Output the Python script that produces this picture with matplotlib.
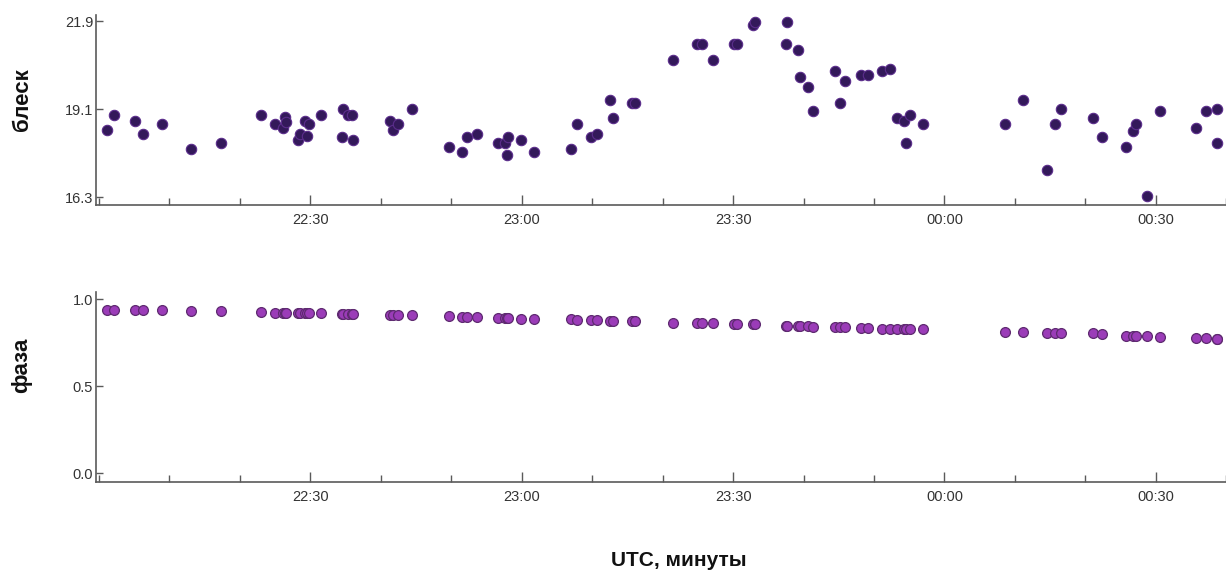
import matplotlib
matplotlib.use("Agg")
import matplotlib.pyplot as plt
from matplotlib.ticker import FixedLocator, MultipleLocator

plt.rcParams['font.family'] = ['Liberation Sans', 'DejaVu Sans']

# observation times, minutes after 22:00 UTC
t_min = [1.2, 2.2, 5.1, 6.3, 9.0, 13.1, 17.3, 23.0, 25.0, 26.1,
         26.4, 26.6, 28.3, 28.5, 29.2, 29.6, 29.8, 31.5, 34.5, 34.7,
         35.4, 35.9, 36.0, 41.3, 41.8, 42.5, 44.5, 49.7, 51.6, 52.2,
         53.6, 56.6, 57.6, 57.9, 58.1, 59.9, 61.7, 67.0, 67.8, 69.8,
         70.7, 72.5, 73.0, 75.6, 76.1, 81.5, 84.9, 85.6, 87.1, 90.2,
         90.5, 92.8, 93.1, 97.5, 97.7, 99.2, 99.5, 100.6, 101.4, 104.5,
         105.2, 105.9, 108.1, 109.1, 111.2, 112.2, 113.3, 114.2, 114.6, 115.1,
         116.9, 128.6, 131.1, 134.5, 135.7, 136.5, 141.1, 142.4, 145.7, 146.7,
         147.2, 148.8, 150.6, 155.7, 157.1, 158.6, 158.7]

# brightness (magnitude)
mag = [18.43, 18.91, 18.72, 18.31, 18.62, 17.83, 18.03, 18.91, 18.62, 18.50,
       18.84, 18.70, 18.11, 18.30, 18.73, 18.24, 18.62, 18.91, 18.22, 19.12,
       18.91, 18.91, 18.11, 18.72, 18.43, 18.62, 19.11, 17.90, 17.74, 18.22,
       18.30, 18.03, 18.03, 17.64, 18.22, 18.11, 17.74, 17.83, 18.62, 18.22,
       18.30, 19.39, 18.82, 19.31, 19.31, 20.68, 21.19, 21.19, 20.68, 21.19,
       21.19, 21.79, 21.88, 21.19, 21.88, 20.98, 20.11, 19.79, 19.04, 20.31,
       19.31, 20.00, 20.18, 20.18, 20.31, 20.38, 18.82, 18.72, 18.03, 18.91,
       18.62, 18.62, 19.39, 17.15, 18.62, 19.11, 18.82, 18.22, 17.90, 18.41,
       18.62, 16.34, 19.04, 18.50, 19.04, 19.11, 18.03]

# phase angle
phase = [0.940, 0.940, 0.939, 0.937, 0.935, 0.931, 0.931, 0.927, 0.922, 0.921,
         0.921, 0.921, 0.920, 0.920, 0.920, 0.919, 0.919, 0.918, 0.915, 0.915,
         0.914, 0.914, 0.914, 0.908, 0.908, 0.907, 0.906, 0.902, 0.896, 0.895,
         0.895, 0.890, 0.889, 0.889, 0.889, 0.887, 0.884, 0.883, 0.882, 0.879,
         0.879, 0.876, 0.875, 0.875, 0.874, 0.865, 0.864, 0.863, 0.860, 0.857,
         0.856, 0.855, 0.855, 0.847, 0.846, 0.845, 0.844, 0.843, 0.842, 0.838,
         0.837, 0.837, 0.835, 0.834, 0.830, 0.829, 0.829, 0.828, 0.828, 0.828,
         0.827, 0.812, 0.810, 0.808, 0.808, 0.807, 0.803, 0.802, 0.788, 0.787,
         0.787, 0.786, 0.785, 0.775, 0.774, 0.773, 0.773]

time_ticks = [30, 60, 90, 120, 150]
time_labels = ['22:30', '23:00', '23:30', '00:00', '00:30']
mag_ticks = [16.3, 19.1, 21.9]
phase_ticks = [0.0, 0.5, 1.0]

axis_col = '#5a5a5a'
text_col = '#333333'

fig = plt.figure(figsize=(12.26, 5.74), dpi=100)
ax1 = fig.add_axes([0.0783, 0.643, 0.922, 0.331])
ax2 = fig.add_axes([0.0783, 0.160, 0.922, 0.331])


def style_axis(ax):
    for side in ('top', 'right'):
        ax.spines[side].set_visible(False)
    for side in ('left', 'bottom'):
        ax.spines[side].set_color(axis_col)
        ax.spines[side].set_linewidth(1.2)
    ax.set_xlim(-0.4, 160.0)
    ax.xaxis.set_major_locator(FixedLocator(time_ticks))
    ax.set_xticklabels(time_labels)
    ax.xaxis.set_minor_locator(MultipleLocator(10))
    ax.tick_params(axis='x', which='major', direction='in', length=7,
                   width=1.0, color=axis_col, labelsize=10.5,
                   labelcolor=text_col, pad=6)
    ax.tick_params(axis='x', which='minor', direction='in', length=5,
                   width=1.0, color=axis_col)
    ax.tick_params(axis='y', direction='in', length=5, width=1.0,
                   color=axis_col, labelsize=10.5, labelcolor=text_col, pad=2)


style_axis(ax1)
ax1.scatter(t_min, mag, s=56, color='#33195a', edgecolors='#5b2d8c',
            linewidths=0.8, zorder=3)
ax1.set_ylim(16.05, 22.1)
ax1.set_yticks(mag_ticks)
ax1.set_yticklabels(['16.3', '19.1', '21.9'])

style_axis(ax2)
ax2.scatter(t_min, phase, s=50, color='#9b3cb8', edgecolors='#5e2a70',
            linewidths=0.9, zorder=3)
ax2.set_ylim(-0.052, 1.04)
ax2.set_yticks(phase_ticks)
ax2.set_yticklabels(['0.0', '0.5', '1.0'])

fig.text(0.018, 0.826, 'блеск', rotation=90, ha='center', va='center',
         fontsize=16, fontweight='bold', color='#111111')
fig.text(0.018, 0.364, 'фаза', rotation=90, ha='center', va='center',
         fontsize=16, fontweight='bold', color='#111111')
fig.text(679 / 1226, 0.024, 'UTC, минуты', ha='center', va='center',
         fontsize=15, fontweight='bold', color='#111111')

fig.savefig('out.png', dpi=100, facecolor='white')
